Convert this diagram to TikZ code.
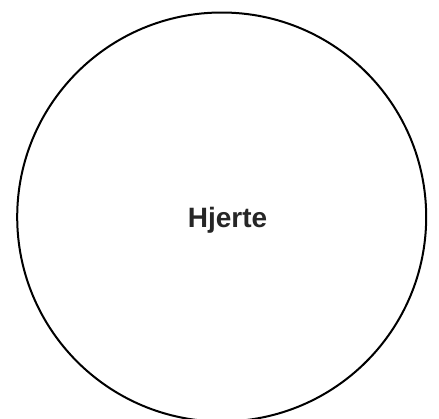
\documentclass[tikz,border=0pt]{standalone}
\usepackage{fontspec}
\setmainfont{Liberation Sans}
\definecolor{txt}{HTML}{262626}
\begin{document}
\begin{tikzpicture}[x=1pt,y=-1pt,
  heart/.style={circle,draw=black,line width=2pt,minimum size=409pt,inner sep=0pt},
  lbl/.style={font=\fontsize{28}{32}\selectfont\bfseries,text=txt}]
\useasboundingbox (0,0) rectangle (439,418);
\node[heart] (c) at (221.7,217) {};
\node[lbl,anchor=base] (t) at (227.5,227.5) {Hjerte};
\end{tikzpicture}
\end{document}
